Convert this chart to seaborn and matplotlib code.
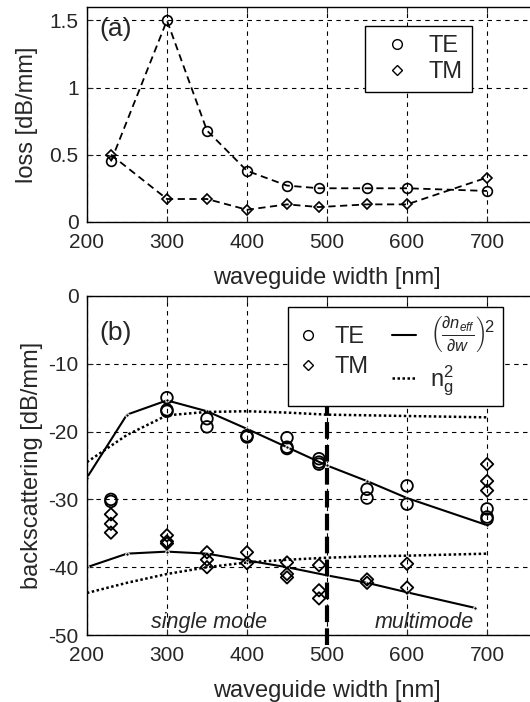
import numpy as np
import pandas as pd
import matplotlib
matplotlib.use("Agg")
import matplotlib.pyplot as plt
import seaborn as sns
from matplotlib.lines import Line2D

sns.set_style("ticks")
plt.rcParams['font.family'] = ['Liberation Sans', 'DejaVu Sans']
plt.rcParams['mathtext.fontset'] = 'custom'
plt.rcParams['mathtext.rm'] = 'Liberation Sans'
plt.rcParams['mathtext.it'] = 'Liberation Sans:italic'
plt.rcParams['font.size'] = 15

# (a) loss vs width
width_a = [230, 300, 350, 400, 450, 490, 550, 600, 700]
loss_te = [0.45, 1.50, 0.68, 0.38, 0.27, 0.25, 0.25, 0.25, 0.23]
loss_tm = [0.50, 0.17, 0.17, 0.09, 0.13, 0.11, 0.13, 0.13, 0.33]

# (b) measured backscattering
bs_te_x = [230, 230, 300, 300, 300, 350, 350, 400, 400, 450, 450, 450,
           490, 490, 490, 550, 550, 600, 600, 700, 700, 700]
bs_te_y = [-30.0, -30.3, -15.0, -16.8, -17.0, -18.1, -19.3, -20.6, -20.8,
           -20.9, -22.3, -22.5, -24.0, -24.5, -24.8, -28.5, -29.8, -28.0,
           -30.7, -31.4, -32.6, -32.9]
bs_tm_x = [230, 230, 230, 300, 300, 300, 350, 350, 350, 400, 400, 450, 450,
           450, 490, 490, 490, 550, 550, 600, 600, 700, 700, 700]
bs_tm_y = [-32.2, -33.6, -34.9, -35.3, -36.2, -36.5, -37.8, -38.9, -40.0,
           -37.8, -39.4, -39.3, -41.0, -41.5, -39.7, -43.4, -44.6, -41.8,
           -42.3, -39.5, -43.0, -24.8, -27.3, -28.7]

# (b) model curves
model_x = [200, 250, 300, 350, 400, 450, 500, 550, 600, 700]
dndw_te = [-26.8, -17.5, -15.4, -17.0, -19.6, -22.3, -25.0, -27.3, -29.8, -33.8]
dndw_tm_x = [200, 250, 300, 350, 400, 450, 500, 550, 600, 685]
dndw_tm = [-40.0, -38.0, -37.7, -38.0, -39.0, -40.0, -41.2, -42.3, -43.7, -46.0]
ng_x = [200, 250, 300, 350, 400, 450, 500, 550, 600, 700]
ng_te = [-24.5, -20.5, -17.6, -17.1, -17.0, -17.2, -17.5, -17.6, -17.7, -17.9]
ng_tm = [-43.8, -42.3, -41.0, -40.0, -39.3, -38.9, -38.6, -38.4, -38.3, -38.0]

fig = plt.figure(figsize=(5.3, 7.02), dpi=100)
ax1 = fig.add_axes([0.164, 0.684, 0.906, 0.306])
ax2 = fig.add_axes([0.164, 0.0954, 0.906, 0.483])

for ax in (ax1, ax2):
    ax.grid(True, color='k', linestyle=(0, (4, 4)), linewidth=0.8)
    ax.tick_params(direction='in', top=True, right=True, length=4,
                   labelsize=15, width=0.8, pad=6)
    ax.tick_params(axis='x', pad=8)
    ax.set_xlim(200, 800)
    ax.set_xticks([200, 300, 400, 500, 600, 700, 800])
    ax.set_xticklabels(['200', '300', '400', '500', '600', '700', ''])
    for s in ax.spines.values():
        s.set_linewidth(1.0)
        s.set_color('k')
    ax.set_xlabel('waveguide width [nm]', fontsize=17, labelpad=11)

# panel (a)
sns.lineplot(x=width_a, y=loss_te, ax=ax1, color='k', linestyle=(0, (4, 2.5)),
             linewidth=1.3, marker='o', markersize=7, markerfacecolor='none',
             markeredgecolor='k', markeredgewidth=1.2)
sns.lineplot(x=width_a, y=loss_tm, ax=ax1, color='k', linestyle=(0, (4, 2.5)),
             linewidth=1.3, marker='D', markersize=5.5, markerfacecolor='none',
             markeredgecolor='k', markeredgewidth=1.2)
ax1.set_ylim(0, 1.6)
ax1.set_yticks([0, 0.5, 1, 1.5])
ax1.set_yticklabels(['0', '0.5', '1', '1.5'])
ax1.set_ylabel('loss [dB/mm]', fontsize=17, labelpad=8)
ax1.text(215, 1.44, '(a)', fontsize=19, va='center')
h_te = Line2D([], [], linestyle='none', marker='o', markersize=7,
              markerfacecolor='none', markeredgecolor='k')
h_tm = Line2D([], [], linestyle='none', marker='D', markersize=5.5,
              markerfacecolor='none', markeredgecolor='k')
ax1.legend([h_te, h_tm], ['TE', 'TM'], loc='upper left',
           bbox_to_anchor=(0.579, 0.912), borderaxespad=0, fancybox=False,
           edgecolor='k', framealpha=1, fontsize=17, handletextpad=0.4,
           borderpad=0.4, labelspacing=0.15, handlelength=1.9)

# panel (b)
sns.lineplot(x=model_x, y=dndw_te, ax=ax2, color='k', linewidth=1.5,
             marker='o', markersize=2.5)
sns.lineplot(x=dndw_tm_x, y=dndw_tm, ax=ax2, color='k', linewidth=1.5,
             marker='o', markersize=2.5)
sns.lineplot(x=ng_x, y=ng_te, ax=ax2, color='k', linewidth=1.8,
             linestyle=(0, (1, 1)))
sns.lineplot(x=ng_x, y=ng_tm, ax=ax2, color='k', linewidth=1.8,
             linestyle=(0, (1, 1)))
sns.scatterplot(x=bs_te_x, y=bs_te_y, ax=ax2, marker='o', s=70,
                facecolor='none', edgecolor='k', linewidth=1.3, zorder=3)
sns.scatterplot(x=bs_tm_x, y=bs_tm_y, ax=ax2, marker='D', s=40,
                facecolor='none', edgecolor='k', linewidth=1.3, zorder=3)
ax2.plot([500, 500], [-51.5, -15.5], color='k', linewidth=3,
         linestyle=(0, (4, 1.5)), clip_on=False, zorder=4)
ax2.set_ylim(-50, 0)
ax2.set_yticks([-50, -40, -30, -20, -10, 0])
ax2.set_yticklabels(['-50', '-40', '-30', '-20', '-10', '0'])
ax2.set_ylabel('backscattering [dB/mm]', fontsize=17, labelpad=4)
ax2.text(215, -5.5, '(b)', fontsize=19, va='center')
ax2.text(352, -48.2, 'single mode', fontsize=15.5, style='italic',
         ha='center', va='center')
ax2.text(622, -48.2, 'multimode', fontsize=15.5, style='italic',
         ha='center', va='center')
h_solid = Line2D([], [], color='k', linewidth=1.5)
h_dot = Line2D([], [], color='k', linewidth=1.8, linestyle=(0, (1, 1)))
leg = ax2.legend([h_te, h_tm, h_solid, h_dot],
                 ['TE', 'TM',
                  r'$\left(\frac{\partial n_{eff}}{\partial w}\right)^{\!2}$',
                  r'$\mathregular{n_g^2}$'],
                 ncol=2, loc='upper left', bbox_to_anchor=(0.419, 0.968),
                 borderaxespad=0, fancybox=False, edgecolor='k', framealpha=1,
                 fontsize=17, handletextpad=0.6, borderpad=0.35,
                 columnspacing=1.0, handlelength=1.0, labelspacing=0.35)
leg.get_texts()[2].set_fontsize(17)

fig.savefig('out.png', dpi=100)
